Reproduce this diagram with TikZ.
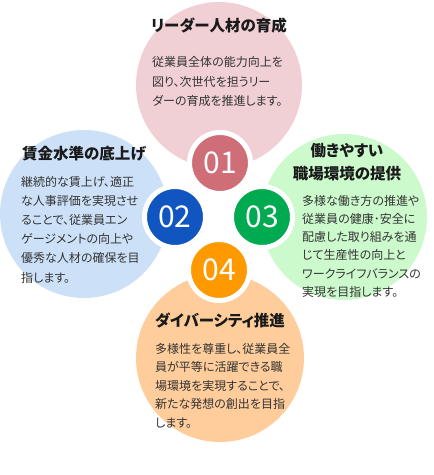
\documentclass[tikz,border=0pt]{standalone}
\usepackage{fontspec}
\newfontfamily\cjk[RawFeature=+palt]{Noto Sans CJK JP}
\newfontfamily\cjknum{Noto Sans CJK JP}
\definecolor{pinkbg}{HTML}{F0D0D5}
\definecolor{bluebg}{HTML}{CCE1F8}
\definecolor{greenbg}{HTML}{CCFACC}
\definecolor{orangebg}{HTML}{FFCD9B}
\definecolor{pinkno}{HTML}{D06E78}
\definecolor{blueno}{HTML}{1155C0}
\definecolor{greenno}{HTML}{00AA50}
\definecolor{orangeno}{HTML}{FF9900}
\definecolor{titlec}{HTML}{1A1A1A}
\definecolor{bodyc}{HTML}{333333}
\tikzset{
  bigc/.style={circle, minimum size=#1, inner sep=0pt, draw=none},
  numc/.style={circle, minimum size=61pt, inner sep=0pt, draw=white, line width=5pt,
    text=white, font=\cjknum\fontsize{30}{30}\selectfont},
  ttl/.style={anchor=base, inner sep=0pt, text=titlec, align=center,
    font=\cjk\bfseries\fontsize{15.5}{23}\selectfont},
  body/.style={anchor=base west, inner sep=0pt, text=bodyc, align=left,
    font=\cjk\fontsize{12}{#1}\selectfont},
  body/.default=19
}
\begin{document}
\begin{tikzpicture}[x=1pt,y=-1pt]
\useasboundingbox (0,0) rectangle (434,475);
% big circles
\node[bigc=166pt, fill=pinkbg] (bp) at (219,85) {};
\node[bigc=168pt, fill=bluebg] (bb) at (84,214) {};
\node[bigc=166pt, fill=greenbg] (bg) at (344,217) {};
\node[bigc=168pt, fill=orangebg] (bo) at (220,358) {};
% numbered circles
\node[numc, fill=pinkno] (n1) at (220,163) {01};
\node[numc, fill=blueno] (n2) at (175,217) {02};
\node[numc, fill=greenno] (n3) at (262,217) {03};
\node[numc, fill=orangeno] (n4) at (219,270) {04};
% titles (anchor base = baseline of the last line)
\node[ttl] (t1) at (219,31) {リーダー人材の育成};
\node[ttl] (t2) at (84,159) {賃金水準の底上げ};
\node[ttl] (t3) at (347,179) {働きやすい\\職場環境の提供};
\node[ttl] (t4) at (220,326) {ダイバーシティ推進};
% bodies (anchor base west = baseline of the last line)
\node[body=19.5] (d1) at (152,105.5) {従業員全体の能力向上を\\図り、次世代を担うリー\\ダーの育成を推進します。};
\node[body=19.2] (d2) at (21,282) {継続的な賃上げ、適正\\な人事評価を実現させ\\ることで、従業員エン\\ゲージメントの向上や\\優秀な人材の確保を目\\指します。};
\node[body=18.3] (d3) at (302,296.5) {多様な働き方の推進や\\従業員の健康･安全に\\配慮した取り組みを通\\じて生産性の向上と\\ワークライフバランスの\\実現を目指します。};
\node[body=18.6] (d4) at (155,427.4) {多様性を尊重し、従業員全\\員が平等に活躍できる職\\場環境を実現することで、\\新たな発想の創出を目指\\します。};
\end{tikzpicture}
\end{document}
